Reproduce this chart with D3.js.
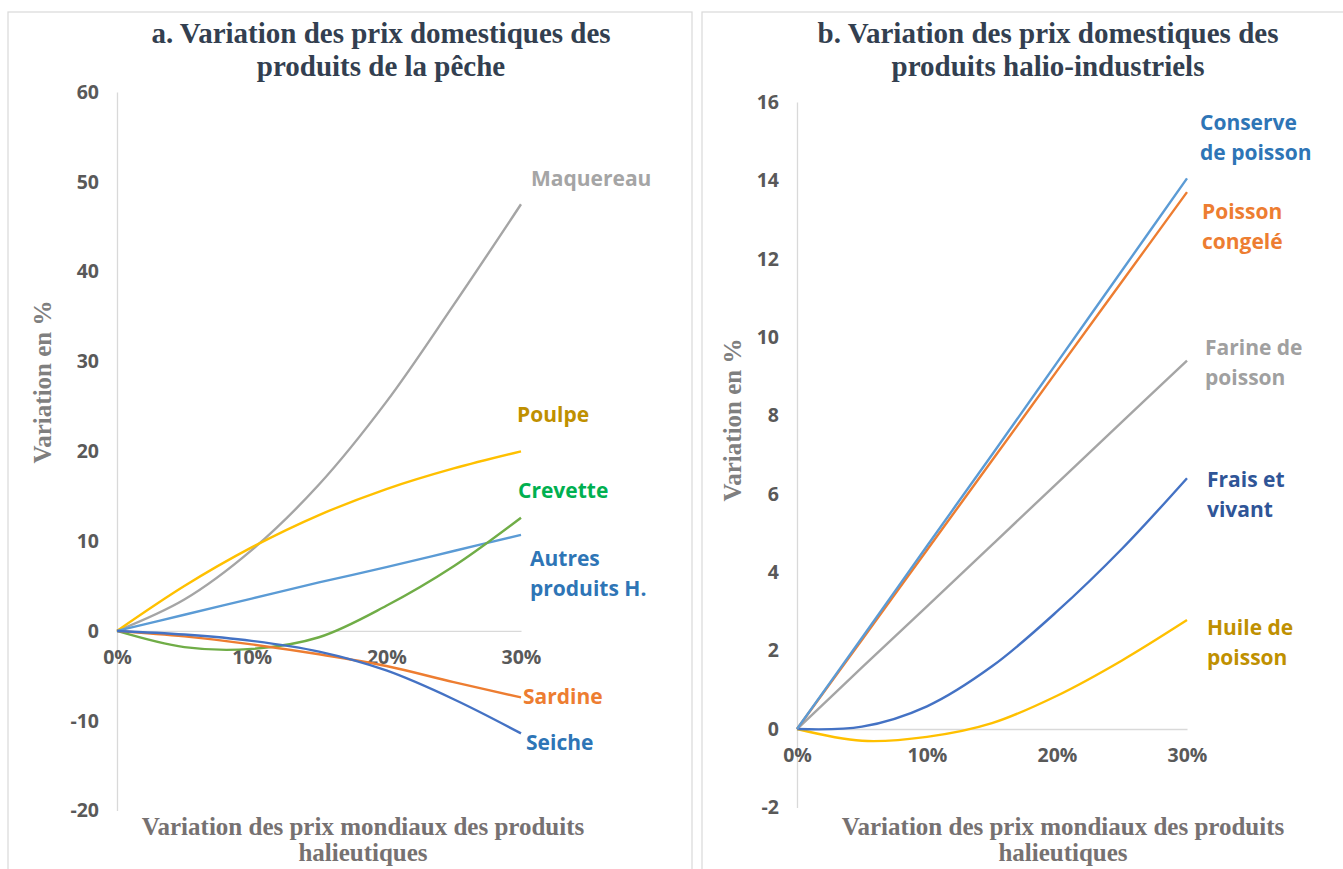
<!DOCTYPE html>
<html><head><meta charset="utf-8">
<script src="https://cdn.jsdelivr.net/npm/d3@7"></script>
<style>
body{margin:0;background:#fff;}
svg{display:block;}
.tick text{font-family:"Open Sans",sans-serif;font-weight:bold;fill:#595959;}
</style></head>
<body>
<svg id="c" width="1343" height="869"></svg>
<script>
// ---- data ----
const xSteps = [0, 5, 10, 15, 20, 25, 30]; // % variation des prix mondiaux
const xTicksA = [0, 10, 20, 30];

// Panel a
const maquereau = [0, 3.5, 9.0, 16.3, 25.5, 36.3, 47.5];
const poulpe    = [0, 5.0, 9.3, 12.9, 15.8, 18.1, 20.0];
const crevette  = [0, -1.8, -2.0, -0.7, 2.8, 7.2, 12.6];
const autres    = [0, 1.8, 3.6, 5.4, 7.1, 8.9, 10.7];
const sardine   = [0, -0.6, -1.5, -2.6, -3.9, -5.7, -7.4];
const seiche    = [0, -0.4, -1.1, -2.3, -4.4, -7.6, -11.4];
const yTicksA = [-20, -10, 0, 10, 20, 30, 40, 50, 60];

// Panel b
const conserve  = [0, 2.33, 4.67, 7.0, 9.35, 11.7, 14.05];
const congele   = [0, 2.28, 4.57, 6.85, 9.14, 11.42, 13.7];
const farine    = [0, 1.57, 3.13, 4.7, 6.27, 7.84, 9.4];
const frais     = [0, 0.06, 0.58, 1.6, 3.0, 4.6, 6.4];
const huile     = [0, -0.3, -0.2, 0.15, 0.85, 1.75, 2.78];
const yTicksB = [-2, 0, 2, 4, 6, 8, 10, 12, 14, 16];

const svg = d3.select("#c");
const serif = "'Liberation Serif','Times New Roman',serif";
const sans = "'Open Sans',sans-serif";

function panel(cfg) {
  const g = svg.append("g");
  g.append("rect").attr("x", cfg.box[0]).attr("y", cfg.box[1]).attr("width", cfg.box[2]).attr("height", cfg.box[3])
    .attr("fill", "none").attr("stroke", "#d9d9d9").attr("stroke-width", 1.2);
  const x = d3.scaleLinear().domain([0, 30]).range([cfg.x0, cfg.x1]);
  const y = d3.scaleLinear().domain(cfg.yDom).range([cfg.yB, cfg.yT]);
  // title
  const t = g.append("text").attr("text-anchor", "middle")
    .attr("font-family", serif).attr("font-weight", "bold")
    .attr("font-size", 29).attr("fill", "#333f50");
  cfg.title.forEach((s, i) => t.append("tspan").attr("x", cfg.titleX).attr("y", 43 + i * 33).text(s));
  // y axis
  const ya = g.append("g").attr("transform", `translate(${cfg.x0},0)`)
    .call(d3.axisLeft(y).tickValues(cfg.yTicks).tickSize(0).tickPadding(cfg.yPad).tickFormat(d => String(d)));
  ya.select(".domain").attr("stroke", "#d9d9d9").attr("stroke-width", 1.3);
  ya.selectAll(".tick text").attr("font-size", 19.5);
  // x axis at 0
  const xa = g.append("g").attr("transform", `translate(0,${y(0)})`)
    .call(d3.axisBottom(x).tickValues(xTicksA).tickSize(0).tickPadding(cfg.xPad).tickFormat(d => d + "%"));
  xa.select(".domain").attr("stroke", "#d9d9d9").attr("stroke-width", 1.3);
  xa.selectAll(".tick text").attr("font-size", 19.5);
  // axis titles
  g.append("text").attr("transform", `translate(${cfg.ytX},${cfg.ytY}) rotate(-90)`)
    .attr("text-anchor", "middle").attr("font-family", serif)
    .attr("font-weight", "bold").attr("font-size", 25).attr("fill", "#7f7f7f").text("Variation en %");
  const xt = g.append("text").attr("text-anchor", "middle").attr("font-family", serif)
    .attr("font-weight", "bold").attr("font-size", 25).attr("fill", "#767171");
  ["Variation des prix mondiaux des produits", "halieutiques"].forEach((s, i) =>
    xt.append("tspan").attr("x", cfg.xtX).attr("y", 835 + i * 26).text(s));
  // lines
  const line = d3.line().x((d, i) => x(xSteps[i])).y(d => y(d)).curve(d3.curveCatmullRom.alpha(0.5));
  cfg.series.forEach(s => {
    g.append("path").attr("d", line(s.values)).attr("fill", "none").attr("stroke", s.color)
      .attr("stroke-width", 2.4).attr("stroke-linejoin", "round");
  });
  cfg.series.forEach(s => {
    const lt = g.append("text").attr("font-family", sans).attr("font-weight", "bold")
      .attr("font-size", 21).attr("fill", s.labelColor);
    s.label.forEach((l, i) => lt.append("tspan").attr("x", s.lx).attr("y", s.ly + i * 30).text(l));
  });
}

panel({
  box: [8, 12, 684, 880],
  x0: 117, x1: 521, yT: 92, yB: 810.6, yDom: [-20, 60], yTicks: yTicksA, yPad: 18, xPad: 19,
  title: ["a. Variation des prix domestiques des", "produits de la pêche"], titleX: 381,
  ytX: 51, ytY: 382, xtX: 363,
  series: [
    { values: maquereau, color: "#a5a5a5", labelColor: "#a5a5a5", label: ["Maquereau"], lx: 531, ly: 186 },
    { values: poulpe, color: "#ffc000", labelColor: "#bf9000", label: ["Poulpe"], lx: 517, ly: 422 },
    { values: autres, color: "#5b9bd5", labelColor: "#2e75b6", label: ["Autres", "produits H."], lx: 530, ly: 566 },
    { values: crevette, color: "#70ad47", labelColor: "#00b050", label: ["Crevette"], lx: 518, ly: 498 },
    { values: sardine, color: "#ed7d31", labelColor: "#ed7d31", label: ["Sardine"], lx: 523, ly: 704 },
    { values: seiche, color: "#4472c4", labelColor: "#2e75b6", label: ["Seiche"], lx: 526, ly: 750 }
  ]
});

panel({
  box: [702, 12, 660, 880],
  x0: 797, x1: 1187, yT: 102, yB: 807.4, yDom: [-2, 16], yTicks: yTicksB, yPad: 18, xPad: 19,
  title: ["b. Variation des prix domestiques des", "produits halio-industriels"], titleX: 1048,
  ytX: 741, ytY: 420, xtX: 1063,
  series: [
    { values: farine, color: "#a5a5a5", labelColor: "#a0a0a0", label: ["Farine de", "poisson"], lx: 1205, ly: 355 },
    { values: huile, color: "#ffc000", labelColor: "#bf9000", label: ["Huile de", "poisson"], lx: 1207, ly: 635 },
    { values: frais, color: "#4472c4", labelColor: "#2f5597", label: ["Frais et", "vivant"], lx: 1207, ly: 487 },
    { values: congele, color: "#ed7d31", labelColor: "#ed7d31", label: ["Poisson", "congelé"], lx: 1202, ly: 219 },
    { values: conserve, color: "#5b9bd5", labelColor: "#2e75b6", label: ["Conserve", "de poisson"], lx: 1200, ly: 130 }
  ]
});
</script>
</body></html>
